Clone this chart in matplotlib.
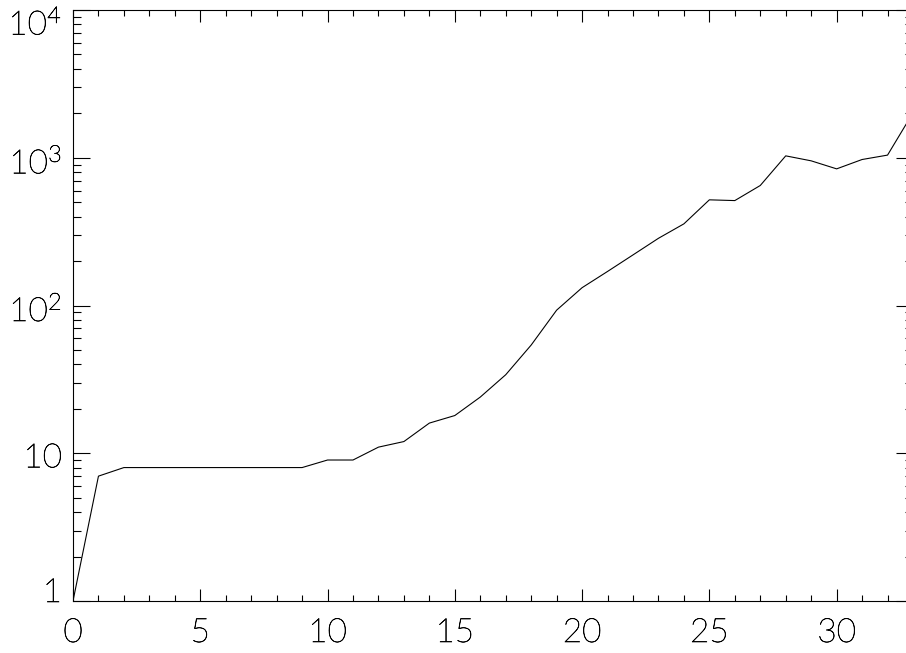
import matplotlib
matplotlib.use("Agg")
import matplotlib.pyplot as plt
import matplotlib.transforms as mtransforms
import matplotlib.patheffects as pe
from matplotlib.ticker import FixedLocator, LogLocator, MultipleLocator, NullFormatter
import numpy as np

days = list(range(34))
values = [1, 7, 8, 8, 8, 8, 8, 8, 8, 8, 9, 9, 11, 12, 16, 18, 24, 34, 54, 93,
          132, 170, 220, 285, 357, 519, 513, 649, 1030, 953, 841, 973, 1042, 2015]
ytick_vals = [1, 10, 100, 1000, 10000]
ytick_labels = ["1", "10", r"$10^{2}$", r"$10^{3}$", r"$10^{4}$"]
xtick_vals = [0, 5, 10, 15, 20, 25, 30]

plt.rcParams['font.family'] = ['Lato', 'DejaVu Sans']
plt.rcParams['mathtext.fontset'] = 'custom'
plt.rcParams['mathtext.rm'] = 'Lato:light'
plt.rcParams['mathtext.it'] = 'Lato:light'
plt.rcParams['mathtext.default'] = 'rm'

PX = 0.72  # points per pixel at dpi 100
W, H = 906, 653
fig = plt.figure(figsize=(W / 100, H / 100), dpi=100)
left, right, bottom, top = 73, 913, 601, 10
ax = fig.add_axes([left / W, 1 - bottom / H, (right - left) / W, (bottom - top) / H])

ax.plot(days, values, color='black', lw=1.1 * PX)
ax.set_yscale('log')
ax.set_xlim(0, 33)
ax.set_ylim(1, 10000)

ax.xaxis.set_major_locator(FixedLocator(xtick_vals))
ax.xaxis.set_minor_locator(MultipleLocator(1))
ax.set_xticklabels([str(v) for v in xtick_vals])
ax.yaxis.set_major_locator(FixedLocator(ytick_vals))
ax.yaxis.set_minor_locator(LogLocator(base=10, subs=np.arange(2, 10)))
ax.yaxis.set_minor_formatter(NullFormatter())
ax.set_yticklabels(ytick_labels)

ax.tick_params(which='both', direction='in', top=True, right=True, color='black', width=1.1 * PX)
ax.tick_params(axis='x', which='major', length=12 * PX, pad=17 * PX, labelsize=24, labelcolor='black')
ax.tick_params(axis='x', which='minor', length=6 * PX)
ax.tick_params(axis='y', which='major', length=17 * PX, pad=11 * PX, labelsize=24, labelcolor='black')
ax.tick_params(axis='y', which='minor', length=8 * PX)
darken = [pe.withStroke(linewidth=0.45, foreground='black')]
for lab in ax.get_xticklabels() + ax.get_yticklabels():
    lab.set_fontweight('light')
    lab.set_path_effects(darken)

# vertical offsets of y labels (pixels), end labels pulled inward
offsets_px = [11, -2, -2, -2, -11]
for lab, dy in zip(ax.get_yticklabels(), offsets_px):
    lab.set_transform(lab.get_transform() + mtransforms.ScaledTranslation(0, dy / 100, fig.dpi_scale_trans))

for s in ax.spines.values():
    s.set_linewidth(1.1 * PX)

fig.savefig("out.png", dpi=100)
